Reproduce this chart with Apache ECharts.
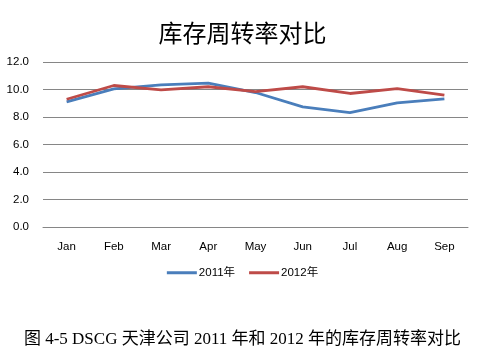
<!DOCTYPE html>
<html><head><meta charset="utf-8">
<script src="https://cdn.jsdelivr.net/npm/echarts@6/dist/echarts.min.js"></script>
<style>html,body{margin:0;padding:0;background:#fff}#c{width:485px;height:355px}</style>
</head><body><div id="c"></div>
<script>
var categories = ['Jan','Feb','Mar','Apr','May','Jun','Jul','Aug','Sep'];
var values2011 = [9.1, 10.05, 10.34, 10.46, 9.78, 8.73, 8.32, 9.03, 9.32];
var values2012 = [9.29, 10.29, 9.98, 10.2, 9.85, 10.2, 9.71, 10.07, 9.59];
var seriesNames = ['2011年', '2012年'];
var chart = echarts.init(document.getElementById('c'), null, {renderer:'canvas'});
chart.setOption({
  animation:false,
  backgroundColor:'#fff',
  title:[{
    text:'库存周转率对比', left:'center', top:16,
    textStyle:{fontFamily:'Noto Sans CJK SC', fontSize:24, fontWeight:'normal', color:'#000'}
  },{
    text:'图 4-5 DSCG 天津公司 2011 年和 2012 年的库存周转率对比', left:'center', top:326,
    textStyle:{fontFamily:'Liberation Serif, Noto Sans CJK SC', fontSize:17, fontWeight:'normal', color:'#000'}
  }],
  legend:{
    data:seriesNames, top:262, left:'center', itemWidth:30, itemHeight:3, itemGap:14,
    icon:'rect',
    textStyle:{fontFamily:'Liberation Sans, Noto Sans CJK SC', fontSize:11.5, color:'#000', padding:[0,0,0,-3]}
  },
  grid:{left:43, right:17, top:62, bottom:128, containLabel:false},
  xAxis:{
    type:'category', data:categories, boundaryGap:true,
    axisLine:{show:true, lineStyle:{color:'#868686'}}, axisTick:{show:false},
    axisLabel:{color:'#000', fontFamily:'Liberation Sans', fontSize:11.5, margin:14}
  },
  yAxis:{
    type:'value', min:0, max:12, interval:2,
    axisLine:{show:false}, axisTick:{show:false},
    axisLabel:{color:'#000', fontFamily:'Liberation Sans', fontSize:11.5, margin:14, formatter:function(v){return v.toFixed(1);}},
    splitLine:{lineStyle:{color:'#868686', width:1}}
  },
  series:[
    {name:seriesNames[0], type:'line', data:values2011, symbol:'none', lineStyle:{color:'#4A7EBB', width:2.8}, itemStyle:{color:'#4A7EBB'}},
    {name:seriesNames[1], type:'line', data:values2012, symbol:'none', lineStyle:{color:'#BE4B48', width:2.8}, itemStyle:{color:'#BE4B48'}}
  ]
});
</script></body></html>
